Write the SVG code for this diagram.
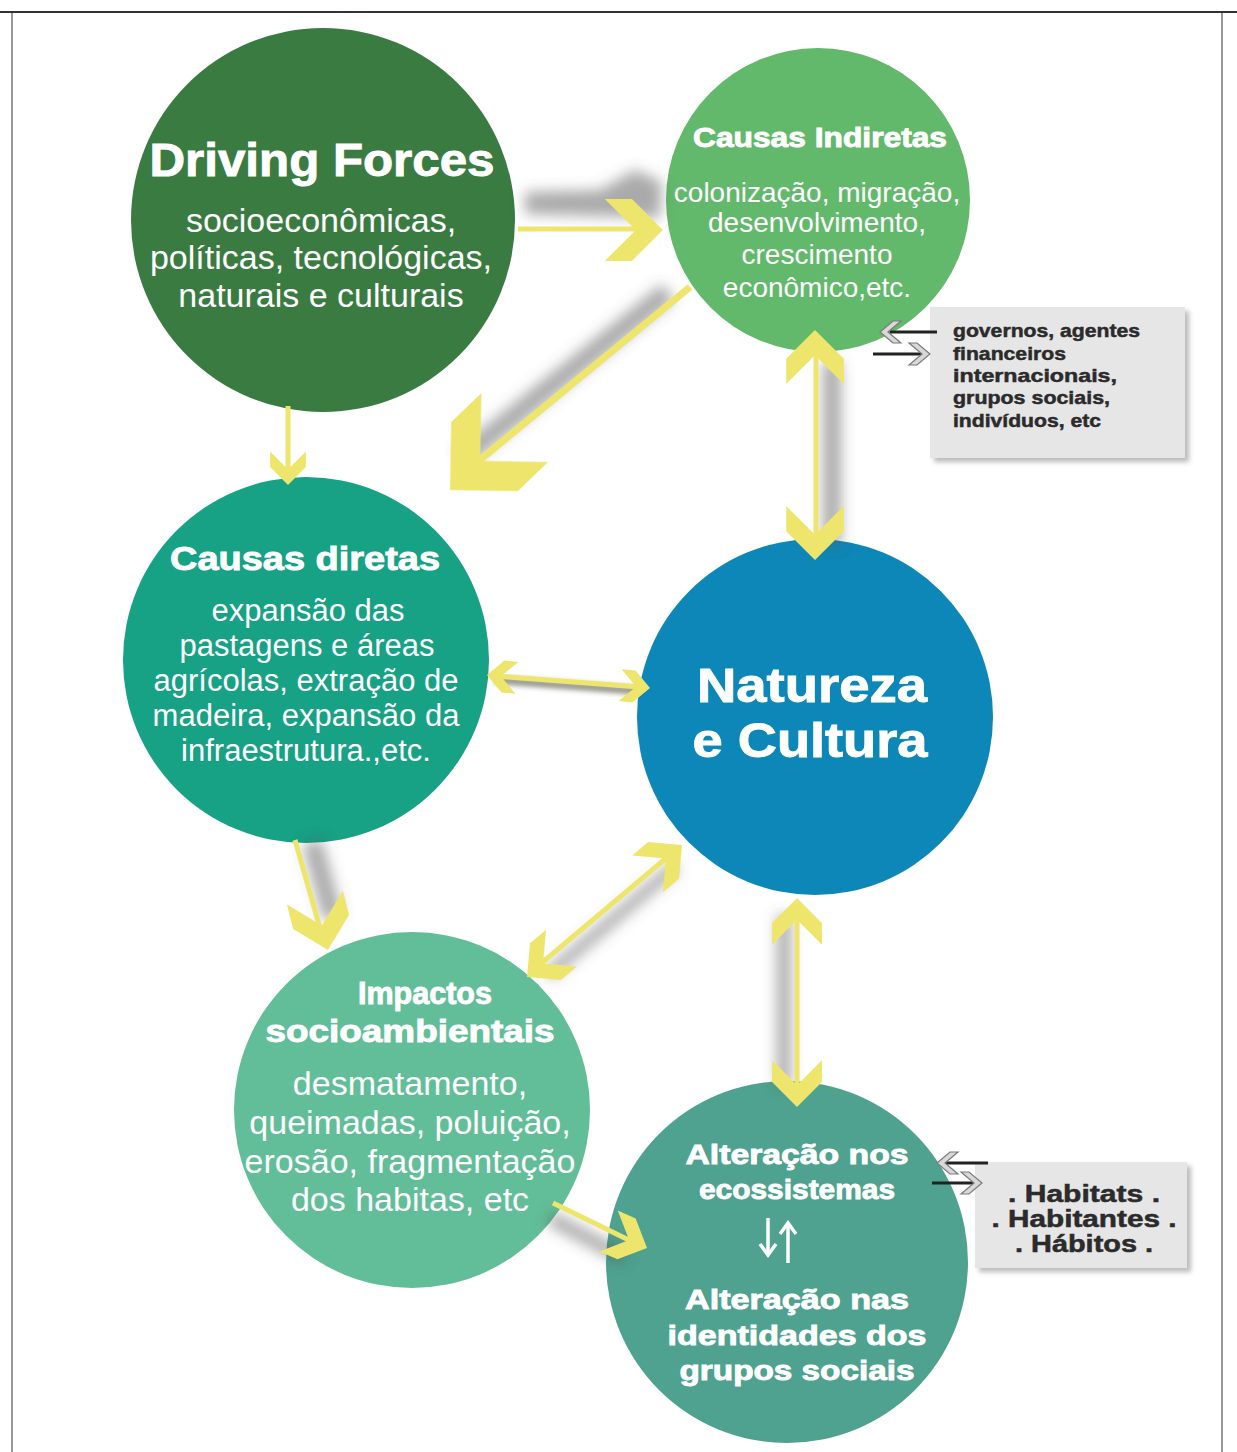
<svg xmlns="http://www.w3.org/2000/svg" xmlns:xlink="http://www.w3.org/1999/xlink" width="1237" height="1452" viewBox="0 0 1237 1452">
<style>
.h{font-family:"Liberation Sans",Arial,sans-serif;font-weight:bold;fill:#fff;stroke:#fff;stroke-width:0.9;text-anchor:middle}
.b{font-family:"Liberation Sans",Arial,sans-serif;fill:#fff;text-anchor:middle}
.bx{font-family:"Liberation Sans",Arial,sans-serif;font-weight:bold;fill:#2b2b2b;stroke:#2b2b2b;stroke-width:0.5}
.ln{stroke:#eee66c;fill:none;stroke-linecap:butt}
.ch{fill:#eee66c}
.sh{fill:none;stroke:#555;stroke-opacity:.5}
.sc{fill:#d8d8d8;stroke:#7a7a7a;stroke-width:1.2}
.bl{stroke:#222;stroke-width:3}
</style>
<defs>
<filter id="blur" x="-50%" y="-50%" width="200%" height="200%"><feGaussianBlur stdDeviation="7"/></filter>
<filter id="blur2" x="-50%" y="-50%" width="200%" height="200%"><feGaussianBlur stdDeviation="2.5"/></filter>
<polygon id="chev" points="0,0 -32,32 -60,32 -28,0 -60,-32 -32,-32"/>
</defs>
<rect width="1237" height="1452" fill="#fff"/>
<g id="frame" stroke="#333" fill="none">
<line x1="0" y1="12" x2="1237" y2="12" stroke-width="2"/>
<line x1="12" y1="12" x2="12" y2="1452" stroke-width="1"/>
<line x1="1222" y1="12" x2="1222" y2="1452" stroke-width="1"/>
</g>
<g id="driving-forces">
<circle cx="323" cy="220" r="192" fill="#3a7b42"/>
<text class="h" x="322" y="176" font-size="46" textLength="345" lengthAdjust="spacingAndGlyphs">Driving Forces</text>
<text class="b" x="321" y="232" font-size="34">socioeconômicas,</text>
<text class="b" x="321" y="269" font-size="34">políticas, tecnológicas,</text>
<text class="b" x="321" y="307" font-size="34">naturais e culturais</text>
</g>
<g id="causas-indiretas">
<circle cx="818" cy="200" r="152" fill="#63b96b"/>
<text class="h" x="820" y="147" font-size="27" textLength="254" lengthAdjust="spacingAndGlyphs">Causas Indiretas</text>
<text class="b" x="817" y="202" font-size="28">colonização, migração,</text>
<text class="b" x="817" y="232" font-size="28">desenvolvimento,</text>
<text class="b" x="817" y="264" font-size="28">crescimento</text>
<text class="b" x="817" y="297" font-size="28">econômico,etc.</text>
</g>
<g id="causas-diretas">
<circle cx="306" cy="660" r="183" fill="#17a185"/>
<text class="h" x="305" y="570" font-size="33" textLength="270" lengthAdjust="spacingAndGlyphs">Causas diretas</text>
<text class="b" x="308" y="621" font-size="31">expansão das</text>
<text class="b" x="307" y="656" font-size="31">pastagens e áreas</text>
<text class="b" x="306" y="691" font-size="31">agrícolas, extração de</text>
<text class="b" x="306" y="726" font-size="31">madeira, expansão da</text>
<text class="b" x="306" y="761" font-size="31">infraestrutura.,etc.</text>
</g>
<g id="natureza-cultura">
<circle cx="815" cy="717" r="178" fill="#0d87b7"/>
<text class="h" x="812" y="702" font-size="48" textLength="230" lengthAdjust="spacingAndGlyphs">Natureza</text>
<text class="h" x="810" y="757" font-size="48" textLength="235" lengthAdjust="spacingAndGlyphs">e Cultura</text>
</g>
<g id="impactos">
<circle cx="412" cy="1110" r="178" fill="#62be99"/>
<text class="h" x="425" y="1004" font-size="31" textLength="134" lengthAdjust="spacingAndGlyphs">Impactos</text>
<text class="h" x="410" y="1042" font-size="31" textLength="289" lengthAdjust="spacingAndGlyphs">socioambientais</text>
<text class="b" x="410" y="1095" font-size="34">desmatamento,</text>
<text class="b" x="410" y="1134" font-size="34">queimadas, poluição,</text>
<text class="b" x="410" y="1173" font-size="34">erosão, fragmentação</text>
<text class="b" x="410" y="1211" font-size="34">dos habitas, etc</text>
</g>
<g id="alteracao">
<circle cx="787" cy="1262" r="181" fill="#4ea28f"/>
<text class="h" x="797" y="1164" font-size="28" textLength="223" lengthAdjust="spacingAndGlyphs">Alteração nos</text>
<text class="h" x="797" y="1199" font-size="28" textLength="196" lengthAdjust="spacingAndGlyphs">ecossistemas</text>
<g stroke="#fff" stroke-width="3.5" fill="none">
<line x1="768" y1="1218" x2="768" y2="1254"/>
<polyline points="760,1244 768,1255 776,1244"/>
<line x1="788" y1="1263" x2="788" y2="1224"/>
<polyline points="780,1234 788,1223 796,1234"/>
</g>
<text class="h" x="797" y="1309" font-size="28" textLength="224" lengthAdjust="spacingAndGlyphs">Alteração nas</text>
<text class="h" x="797" y="1345" font-size="28" textLength="259" lengthAdjust="spacingAndGlyphs">identidades dos</text>
<text class="h" x="797" y="1380" font-size="28" textLength="235" lengthAdjust="spacingAndGlyphs">grupos sociais</text>
</g>
<g id="atores">
<rect x="934" y="311" width="255" height="151" fill="#777" opacity=".5" filter="url(#blur2)"/>
<rect x="930" y="307" width="255" height="151" fill="#e6e6e7"/>
<text class="bx" x="953" y="337" font-size="19" textLength="187" lengthAdjust="spacingAndGlyphs">governos, agentes</text>
<text class="bx" x="953" y="360" font-size="19" textLength="113" lengthAdjust="spacingAndGlyphs">financeiros</text>
<text class="bx" x="953" y="382" font-size="19" textLength="164" lengthAdjust="spacingAndGlyphs">internacionais,</text>
<text class="bx" x="953" y="404" font-size="19" textLength="157" lengthAdjust="spacingAndGlyphs">grupos sociais,</text>
<text class="bx" x="953" y="427" font-size="19" textLength="148" lengthAdjust="spacingAndGlyphs">indivíduos, etc</text>
</g>
<g id="habitats">
<rect x="979" y="1166" width="212" height="106" fill="#777" opacity=".5" filter="url(#blur2)"/>
<rect x="975" y="1162" width="212" height="106" fill="#e6e6e7"/>
<text class="bx" x="1084" y="1202" font-size="23" text-anchor="middle" textLength="152" lengthAdjust="spacingAndGlyphs">. Habitats .</text>
<text class="bx" x="1084" y="1227" font-size="23" text-anchor="middle" textLength="185" lengthAdjust="spacingAndGlyphs">. Habitantes .</text>
<text class="bx" x="1084" y="1252" font-size="23" text-anchor="middle" textLength="138" lengthAdjust="spacingAndGlyphs">. Hábitos .</text>
</g>
<g id="connectors">
<!-- shadows -->
<g filter="url(#blur)">
<path d="M525,192 L600,190 L635,170 L662,182 L660,218 L525,214 Z" fill="#555" opacity=".5"/>
<line class="sh" x1="668" y1="292" x2="462" y2="458" stroke-width="20"/>
<line class="sh" x1="832" y1="362" x2="832" y2="545" stroke-width="18"/>
<line class="sh" x1="312" y1="842" x2="333" y2="918" stroke-width="20"/>
<line class="sh" x1="548" y1="975" x2="676" y2="866" stroke-width="12"/>
<line class="sh" x1="784" y1="915" x2="784" y2="1085" stroke-width="14"/>
<line class="sh" x1="550" y1="1218" x2="625" y2="1258" stroke-width="14"/>
</g>
<line x1="495" y1="680" x2="640" y2="691" stroke="#554" stroke-width="8" opacity=".6" filter="url(#blur2)"/>
<!-- a: Driving Forces -> Causas Indiretas -->
<line class="ln" x1="518" y1="229" x2="640" y2="229" stroke-width="5"/>
<use href="#chev" class="ch" transform="translate(663,230) scale(0.97)"/>
<!-- b: Causas Indiretas -> Causas diretas -->
<line class="ln" x1="690" y1="287" x2="475" y2="464" stroke-width="7"/>
<use href="#chev" class="ch" transform="translate(450,490) rotate(136) scale(1.5)"/>
<!-- c: Driving Forces -> Causas diretas -->
<line class="ln" x1="288" y1="406" x2="288" y2="475" stroke-width="5"/>
<use href="#chev" class="ch" transform="translate(288,485) rotate(90) scale(0.56)"/>
<!-- d: Causas Indiretas <-> Natureza -->
<line class="ln" x1="816" y1="350" x2="816" y2="540" stroke-width="5"/>
<use href="#chev" class="ch" transform="translate(815,330) rotate(-90) scale(0.9)"/>
<use href="#chev" class="ch" transform="translate(815,560) rotate(90) scale(0.9)"/>
<!-- e: Causas diretas <-> Natureza -->
<line class="ln" x1="495" y1="676" x2="640" y2="687" stroke-width="5"/>
<use href="#chev" class="ch" transform="translate(487,675) rotate(185.4) scale(0.5)"/>
<use href="#chev" class="ch" transform="translate(650,688) rotate(5.4) scale(0.5)"/>
<!-- f: Causas diretas -> Impactos -->
<line class="ln" x1="295" y1="840" x2="322" y2="935" stroke-width="5"/>
<use href="#chev" class="ch" transform="translate(328,950) rotate(76) scale(0.9)"/>
<!-- g: Impactos <-> Natureza -->
<line class="ln" x1="538" y1="966" x2="670" y2="855" stroke-width="5"/>
<use href="#chev" class="ch" transform="translate(682,845) rotate(-40) scale(0.75)"/>
<use href="#chev" class="ch" transform="translate(527,977) rotate(140) scale(0.75)"/>
<!-- h: Natureza <-> Alteração -->
<line class="ln" x1="797" y1="910" x2="797" y2="1095" stroke-width="5"/>
<use href="#chev" class="ch" transform="translate(797,898) rotate(-90) scale(0.78)"/>
<use href="#chev" class="ch" transform="translate(797,1107) rotate(90) scale(0.78)"/>
<!-- i: Impactos -> Alteração -->
<line class="ln" x1="553" y1="1203" x2="635" y2="1243" stroke-width="5"/>
<use href="#chev" class="ch" transform="translate(647,1248) rotate(24) scale(0.7)"/>
<!-- small exchange arrows -->
<line class="bl" x1="890" y1="332" x2="937" y2="332"/>
<polygon class="sc" points="880,332 893,321 901,321 888,332 901,343 893,343"/>
<line class="bl" x1="873" y1="354" x2="924" y2="354"/>
<polygon class="sc" points="930,354 917,343 909,343 922,354 909,365 917,365"/>
<line class="bl" x1="945" y1="1163" x2="988" y2="1163"/>
<polygon class="sc" points="937,1163 950,1152 958,1152 945,1163 958,1174 950,1174"/>
<line class="bl" x1="932" y1="1183" x2="976" y2="1183"/>
<polygon class="sc" points="982,1183 969,1172 961,1172 974,1183 961,1194 969,1194"/>
</g>
</svg>
